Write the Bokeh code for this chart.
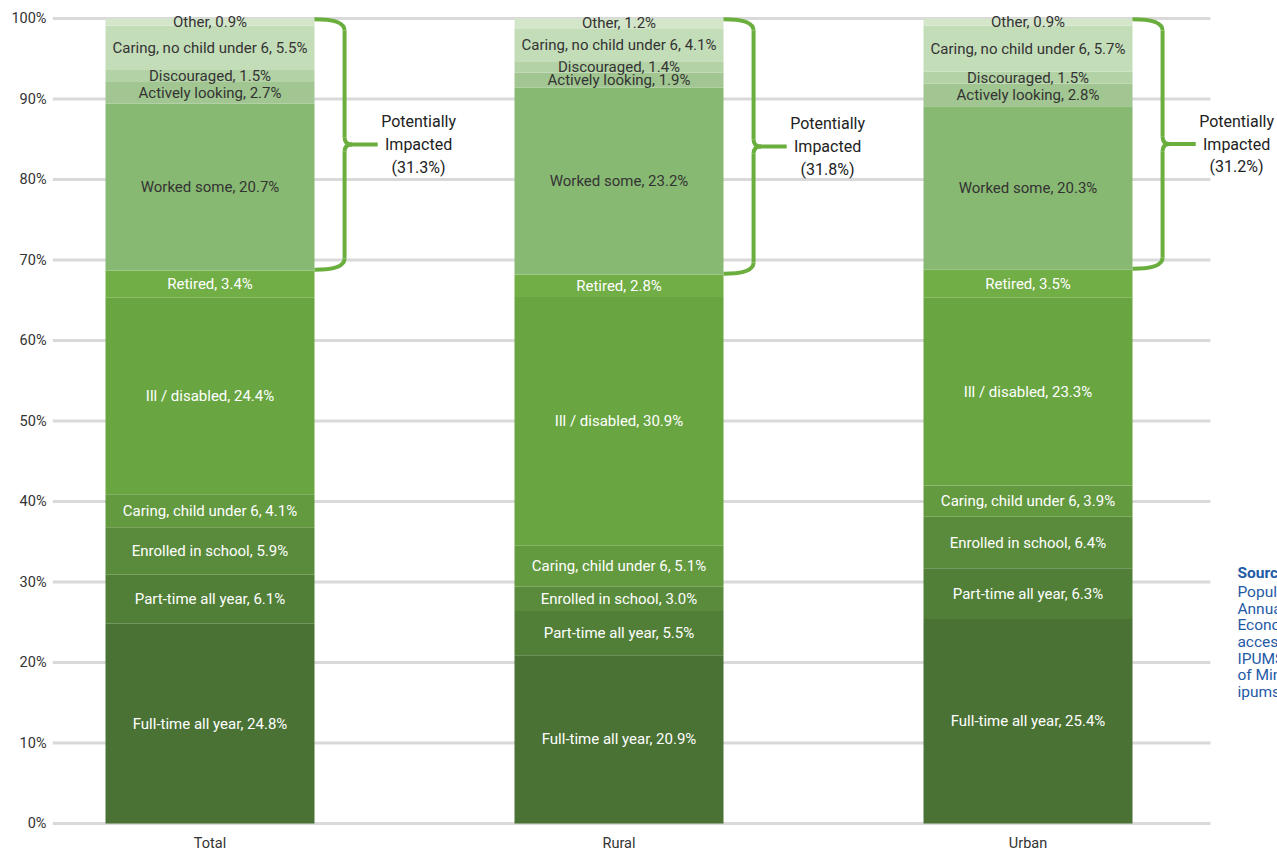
from bokeh.plotting import figure
from bokeh.models import ColumnDataSource, FixedTicker
from bokeh.core.properties import value
from bokeh.embed import file_html
from bokeh.resources import INLINE

groups = ["Total", "Rural", "Urban"]
categories = ["Full-time all year", "Part-time all year", "Enrolled in school",
              "Caring, child under 6", "Ill / disabled", "Retired", "Worked some",
              "Actively looking", "Discouraged", "Caring, no child under 6", "Other"]
total = [24.8, 6.1, 5.9, 4.1, 24.4, 3.4, 20.7, 2.7, 1.5, 5.5, 0.9]
rural = [20.9, 5.5, 3.0, 5.1, 30.9, 2.8, 23.2, 1.9, 1.4, 4.1, 1.2]
urban = [25.4, 6.3, 6.4, 3.9, 23.3, 3.5, 20.3, 2.8, 1.5, 5.7, 0.9]
impacted = [31.3, 31.8, 31.2]
y_ticks = [0, 10, 20, 30, 40, 50, 60, 70, 80, 90, 100]
source_lines = ["Source: Current", "Population Survey", "Annual Social and",
                "Economic Supplement,", "accessed via", "IPUMS-CPS, University",
                "of Minnesota,", "ipums.org."]

colors = ["#4a7235", "#527f38", "#5a8b3c", "#63993f", "#69a641", "#71ae45",
          "#88b972", "#a1c691", "#b3d2a6", "#c4ddb9", "#d3e6ca"]
label_dark = [False] * 6 + [True] * 5
FONT_NAME = "Roboto"
FONT = value(FONT_NAME)
series = [total, rural, urban]

XMIN, XMAX = -0.3851, 2.6100
YMIN, YMAX = -3.602, 102.236
p = figure(width=1277, height=852, output_backend="svg", toolbar_location=None,
           x_range=(XMIN, XMAX), y_range=(YMIN, YMAX),
           min_border_left=52, min_border_right=0, min_border_top=0, min_border_bottom=0)
p.outline_line_color = None
p.xgrid.visible = False
p.ygrid.visible = False
p.xaxis.visible = False
p.background_fill_color = "white"
p.border_fill_color = "white"

# gridlines (stop short of the right-hand notes)
grid_src = ColumnDataSource(dict(x0=[XMIN] * len(y_ticks), x1=[2.446] * len(y_ticks),
                                 y=y_ticks))
p.segment(x0="x0", x1="x1", y0="y", y1="y", source=grid_src, line_color="#d9d9d9",
          line_width=3)

bar_w = 0.511
for k, cat in enumerate(categories):
    xs, bots, tops, labs = [], [], [], []
    for i, s in enumerate(series):
        b = sum(s[:k])
        xs.append(i)
        bots.append(b)
        tops.append(b + s[k])
        labs.append(f"{cat}, {s[k]:.1f}%")
    src = ColumnDataSource(dict(x=xs, bottom=bots, top=tops,
                                mid=[(a + c) / 2 for a, c in zip(bots, tops)], lab=labs))
    p.vbar(x="x", bottom="bottom", top="top", width=bar_w, source=src,
           fill_color=colors[k], line_color=None)
    p.text(x="x", y="mid", text="lab", source=src, text_align="center",
           text_baseline="middle", text_font=FONT, text_font_size="15px",
           text_color="#333333" if label_dark[k] else "#ffffff")

# braces
bc = "#6aae3e"
for i, s in enumerate(series):
    top = sum(s)
    bot = sum(s[:6])
    mid = (top + bot) / 2
    e = i + bar_w / 2
    v = i + 0.329
    t = i + 0.41
    p.quadratic(x0=[e, v, v, v], y0=[top - 0.1, mid + 0.9, mid - 0.9, bot + 1.5],
                x1=[v, v + 0.018, v + 0.018, e], y1=[top - 1.5, mid, mid, bot + 0.1],
                cx=[v, v, v, v], cy=[top - 0.1, mid, mid, bot + 0.1],
                line_color=bc, line_width=4)
    p.segment(x0=[v, v, v + 0.015], x1=[v, v, t], y0=[top - 1.5, mid - 0.9, mid],
              y1=[mid + 0.9, bot + 1.5, mid], line_color=bc, line_width=4)
    p.text(x=[i + 0.51], y=[mid], text=[f"Potentially\nImpacted\n({impacted[i]:.1f}%)"],
           text_align="center", text_baseline="middle", text_font=FONT,
           text_font_size="16px", text_color="#222222", text_line_height=1.2)

# category labels under the bars
cat_src = ColumnDataSource(dict(x=[0, 1, 2], y=[-2.5] * 3, t=groups))
p.text(x="x", y="y", text="t", source=cat_src, text_align="center",
       text_baseline="middle", text_font=FONT, text_font_size="14.5px",
       text_color="#333333")

# source note
src_x = 2.512
p.text(x=[src_x], y=[31.06], text=["Source:"], text_align="left", text_baseline="middle",
       text_font=FONT, text_font_size="15.5px", text_font_style="bold", text_color="#1f5aa6")
p.text(x=[src_x], y=[29.9], text=["\n".join(source_lines[1:])],
       text_align="left", text_baseline="top", text_font=FONT, text_font_size="15.5px",
       text_color="#1f5aa6", text_line_height=0.93)

# y axis
p.yaxis.ticker = FixedTicker(ticks=y_ticks)
p.yaxis.major_label_overrides = {t: f"{t}%" for t in y_ticks}
ax = p.yaxis[0]
ax.axis_line_color = None
ax.major_tick_line_color = None
ax.minor_tick_line_color = None
ax.major_label_text_font = FONT_NAME
ax.major_label_text_font_size = "14.5px"
ax.major_label_text_color = "#333333"
ax.major_label_standoff = 0

open("out.html", "w").write(file_html(p, INLINE))
